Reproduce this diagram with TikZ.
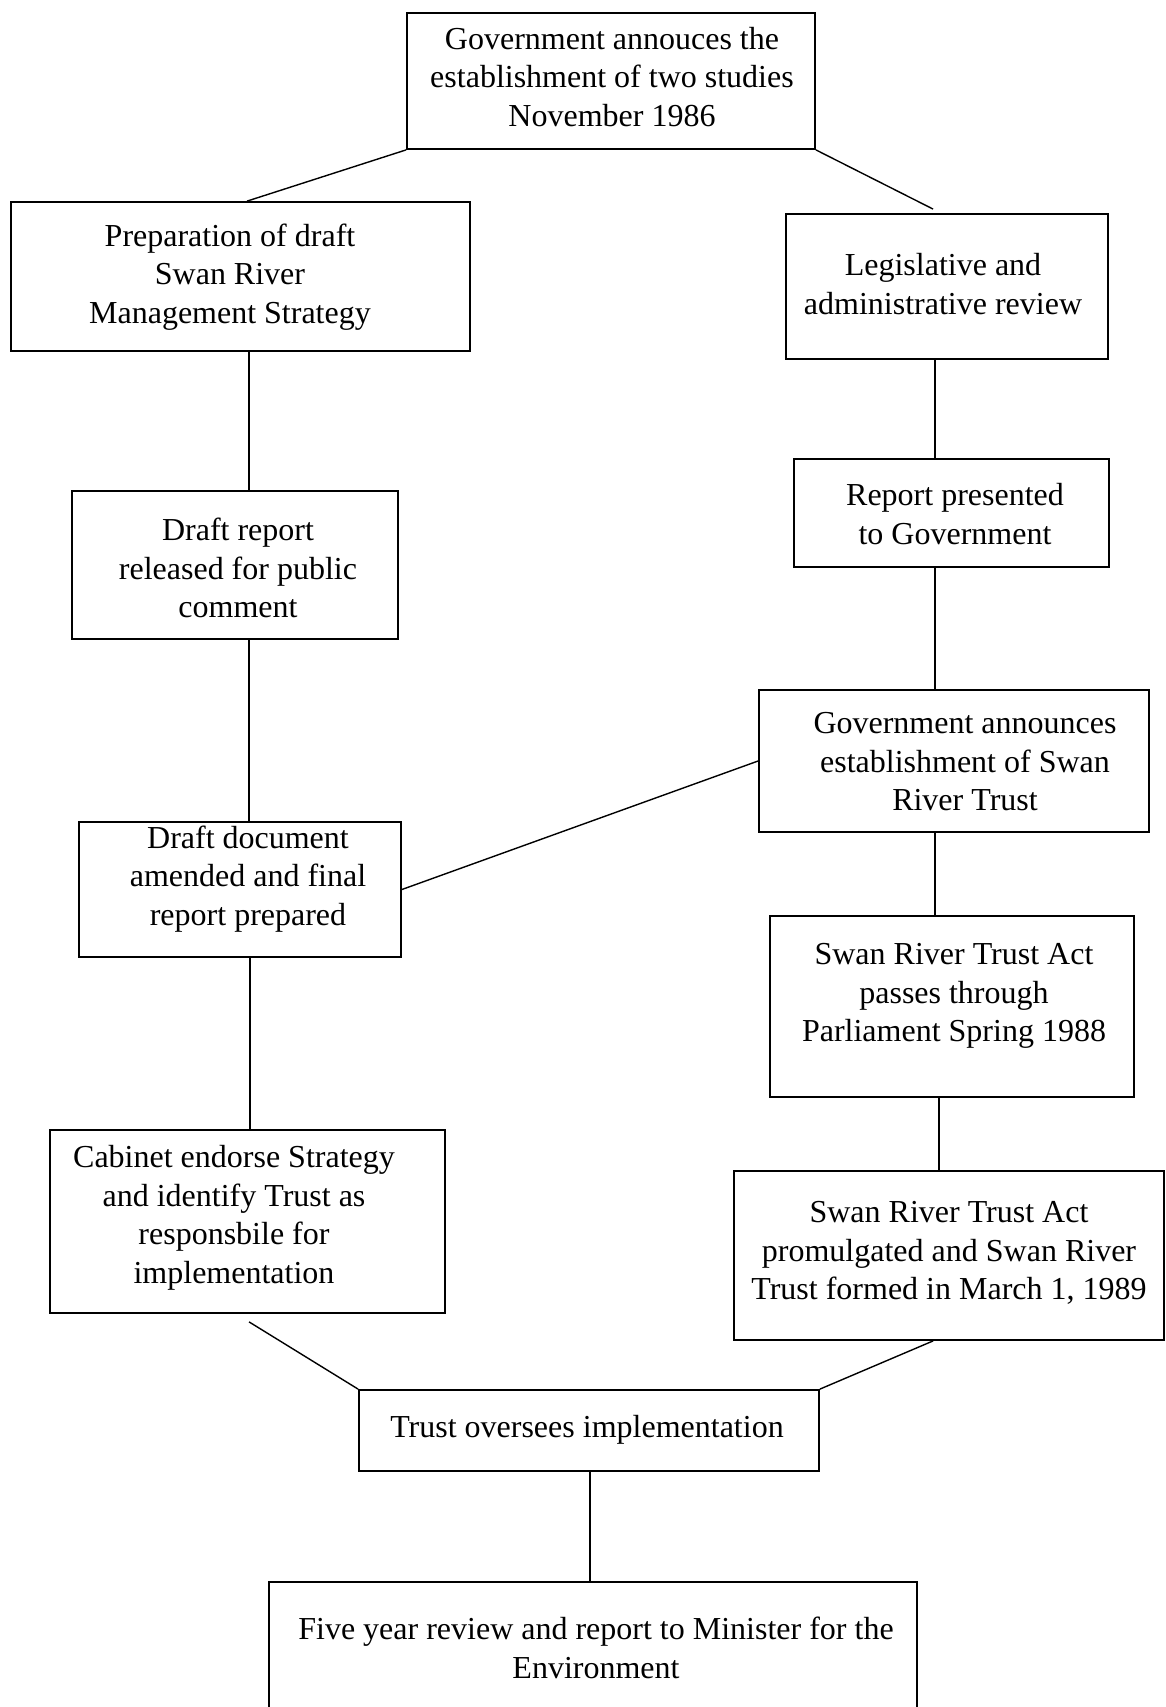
\documentclass[tikz,border=0pt]{standalone}
\usepackage{fontspec}
\setmainfont{Liberation Serif}
\usetikzlibrary{calc}
\begin{document}
\begin{tikzpicture}[x=1pt,y=-1pt,
  box/.style={draw, line width=1.8pt, rectangle, inner sep=0pt},
  conn/.style={line width=1.4pt},
  txt/.style={align=center, inner sep=0pt, font=\fontsize{32}{38.5}\selectfont}]
\clip (0,0) rectangle (1166,1707);
\fill[white] (0,0) rectangle (1166,1707);
% boxes
\node[box, minimum width=408pt, minimum height=136pt] (top) at (611,81) {};
\node[box, minimum width=459pt, minimum height=149pt] (prep) at (240.5,276.5) {};
\node[box, minimum width=322pt, minimum height=145pt] (legis) at (947,286.5) {};
\node[box, minimum width=326pt, minimum height=148pt] (draftrep) at (235,565) {};
\node[box, minimum width=315pt, minimum height=108pt] (reportpres) at (951.5,513) {};
\node[box, minimum width=390pt, minimum height=142pt] (govann) at (954,761) {};
\node[box, minimum width=322pt, minimum height=135pt] (draftdoc) at (240,889.5) {};
\node[box, minimum width=364pt, minimum height=181pt] (passes) at (952,1006.5) {};
\node[box, minimum width=395pt, minimum height=183pt] (cabinet) at (247.5,1221.5) {};
\node[box, minimum width=430pt, minimum height=169pt] (promul) at (949,1255.5) {};
\node[box, minimum width=460pt, minimum height=81pt] (oversees) at (589,1430.5) {};
\node[box, minimum width=648pt, minimum height=160pt] (five) at (593,1662) {};
% texts
\node[txt] (ttop) at (612,77) {Government annouces the\\establishment of two studies\\November 1986};
\node[txt] (tprep) at (230,277) {Preparation of draft\\Swan River\\Management Strategy};
\node[txt] (tlegis) at (943,284) {Legislative and\\administrative review};
\node[txt] (tdraftrep) at (238,568) {Draft report\\released for public\\comment};
\node[txt] (treportpres) at (955,514) {Report presented\\to Government};
\node[txt] (tgovann) at (965,762) {Government announces\\establishment of Swan\\River Trust};
\node[txt] (tdraftdoc) at (248,879) {Draft document\\amended and final\\report prepared};
\node[txt] (tpasses) at (954,996) {Swan River Trust Act\\passes through\\Parliament Spring 1988};
\node[txt] (tcabinet) at (234,1218) {Cabinet endorse Strategy\\and identify Trust as\\responsbile for\\implementation};
\node[txt] (tpromul) at (949,1253) {Swan River Trust Act\\promulgated and Swan River\\Trust formed in March 1, 1989};
\node[txt] (toversees) at (587,1430) {Trust oversees implementation};
\node[txt] (tfive) at (596,1648) {Five year review and report to Minister for the\\Environment};
% connectors
\draw[conn] (top.south west) -- ($(prep.north west)+(237,0)$);
\draw[conn] (top.south east) -- ($(legis.north west)+(148,-4)$);
\draw[conn] ($(prep.south west)+(239,0)$) -- ($(draftrep.north west)+(178,0)$);
\draw[conn] ($(draftrep.south west)+(178,0)$) -- ($(draftdoc.north west)+(171,0)$);
\draw[conn] ($(draftdoc.south west)+(172,0)$) -- ($(cabinet.north west)+(201,0)$);
\draw[conn] ($(legis.south west)+(150,0)$) -- ($(reportpres.north west)+(142,0)$);
\draw[conn] ($(reportpres.south west)+(142,0)$) -- ($(govann.north west)+(177,0)$);
\draw[conn] (govann.west) -- (draftdoc.east);
\draw[conn] ($(govann.south west)+(177,0)$) -- ($(passes.north west)+(166,0)$);
\draw[conn] ($(passes.south west)+(170,0)$) -- ($(promul.north west)+(206,0)$);
\draw[conn] ($(cabinet.south west)+(200,8)$) -- (oversees.north west);
\draw[conn] ($(promul.south west)+(200,0)$) -- (oversees.north east);
\draw[conn] ($(oversees.south west)+(232,0)$) -- ($(five.north west)+(322,0)$);
\end{tikzpicture}
\end{document}
